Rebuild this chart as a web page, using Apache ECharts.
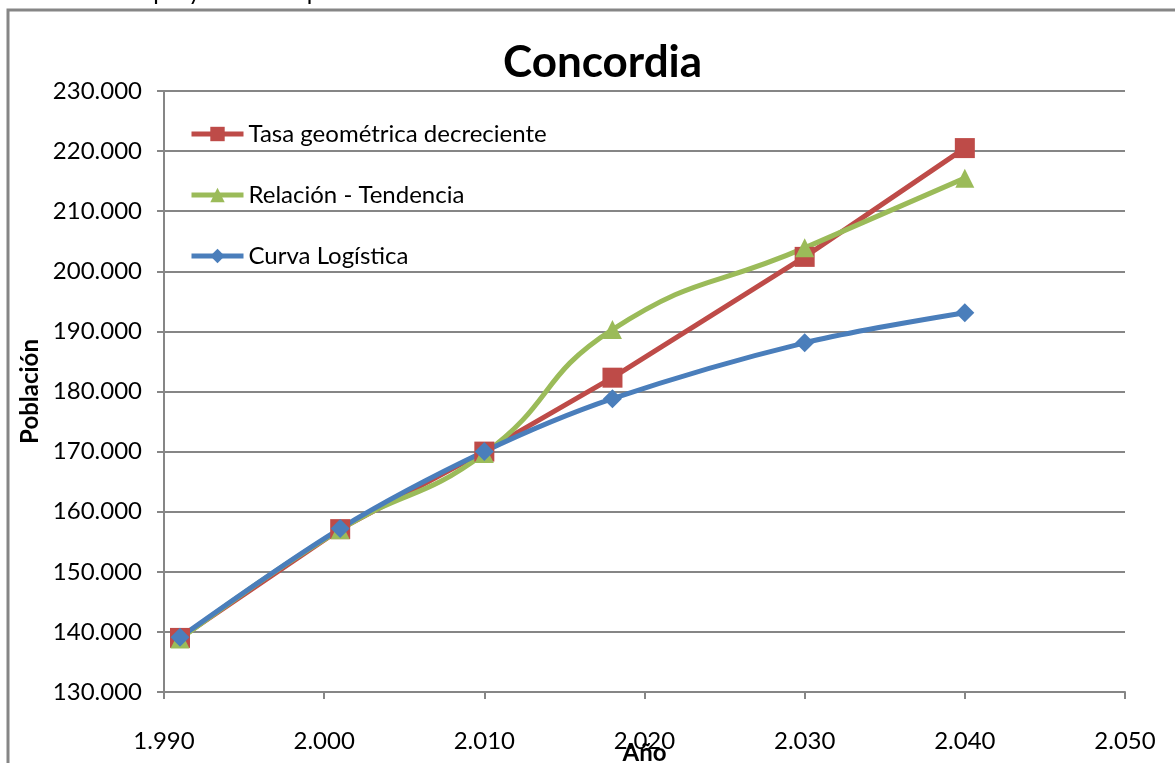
<!DOCTYPE html>
<html>
<head>
    <meta http-equiv="Content-Type" content="text/html; charset=UTF-8" />
    <script src="https://cdn.jsdelivr.net/npm/echarts@6/dist/echarts.min.js"></script>
    <style>
        html, body { margin: 0; padding: 0; background: #fff; }
        #chart { width: 1175px; height: 763px; }
    </style>
</head>
<body>
    <div id="chart"></div>
    <script type="text/javascript">
        // datos
        var years = [1991, 2001, 2010, 2018, 2030, 2040];
        var tasaGeometrica = [139000, 157100, 170000, 182300, 202400, 220500];
        var relacionTendencia = [138800, 157000, 169700, 190300, 203900, 215500];
        var curvaLogistica = [139100, 157200, 170000, 178800, 188100, 193100];

        function pares(vals) {
            return years.map(function (y, i) { return [y, vals[i]]; });
        }
        function miles(v) {
            return String(v).replace(/\B(?=(\d{3})+(?!\d))/g, '.');
        }

        var chart = echarts.init(document.getElementById('chart'));
        var fuente = 'Lato';

        var option = {
            backgroundColor: '#fff',
            animation: false,
            textStyle: { fontFamily: fuente, color: '#000' },
            title: {
                text: 'Concordia',
                left: 498,
                top: 36,
                textStyle: { fontFamily: fuente, fontSize: 44, fontWeight: 'bold', color: '#000' }
            },
            graphic: [
                {
                    type: 'rect',
                    shape: { x: 8, y: 10, width: 1250, height: 850 },
                    style: { fill: 'none', stroke: '#868686', lineWidth: 3 },
                    silent: true
                },
                {
                    type: 'text',
                    left: 36,
                    top: -20,
                    style: { text: 'Estudio de proyección de población', fontFamily: fuente, fontSize: 24, fill: '#000' },
                    silent: true
                }
            ],
            legend: {
                orient: 'vertical',
                left: 184,
                top: 117,
                itemWidth: 52,
                itemHeight: 18,
                itemGap: 37,
                lineStyle: { width: 5 },
                textStyle: { fontFamily: fuente, fontSize: 24, color: '#000' },
                data: ['Tasa geométrica decreciente', 'Relación - Tendencia', 'Curva Logística']
            },
            grid: { left: 164, right: 50, top: 91, bottom: 71, outerBoundsMode: 'none' },
            xAxis: {
                type: 'value',
                min: 1990,
                max: 2050,
                interval: 10,
                name: 'Año',
                nameLocation: 'middle',
                nameGap: 49,
                nameMoveOverlap: false,
                nameTextStyle: { fontFamily: fuente, fontSize: 24, fontWeight: 'bold', color: '#000' },
                axisLine: { lineStyle: { color: '#868686', width: 2 } },
                axisTick: { show: true, length: 7, lineStyle: { color: '#868686', width: 2 } },
                axisLabel: { fontSize: 24, color: '#000', margin: 37, formatter: miles },
                splitLine: { show: false }
            },
            yAxis: {
                type: 'value',
                min: 130000,
                max: 230000,
                interval: 10000,
                name: 'Población',
                nameLocation: 'middle',
                nameRotate: 90,
                nameGap: 122,
                nameMoveOverlap: false,
                nameTextStyle: { fontFamily: fuente, fontSize: 24, fontWeight: 'bold', color: '#000' },
                axisLine: { show: true, lineStyle: { color: '#868686', width: 2 } },
                axisTick: { show: true, length: 7, lineStyle: { color: '#868686', width: 2 } },
                axisLabel: { fontSize: 24, color: '#000', margin: 22, formatter: miles },
                splitLine: { show: true, lineStyle: { color: '#868686', width: 2 } }
            },
            series: [
                {
                    name: 'Tasa geométrica decreciente',
                    type: 'line',
                    data: pares(tasaGeometrica),
                    symbol: 'rect',
                    symbolSize: 20,
                    color: '#BE4B48',
                    lineStyle: { width: 5 }
                },
                {
                    name: 'Relación - Tendencia',
                    type: 'line',
                    data: pares(relacionTendencia),
                    symbol: 'triangle',
                    symbolSize: 19,
                    smooth: 0.5,
                    color: '#9BBB59',
                    lineStyle: { width: 5 }
                },
                {
                    name: 'Curva Logística',
                    type: 'line',
                    data: pares(curvaLogistica),
                    symbol: 'diamond',
                    symbolSize: 19,
                    smooth: 0.3,
                    color: '#4A7EBB',
                    lineStyle: { width: 5 }
                }
            ]
        };

        chart.setOption(option);
    </script>
</body>
</html>
